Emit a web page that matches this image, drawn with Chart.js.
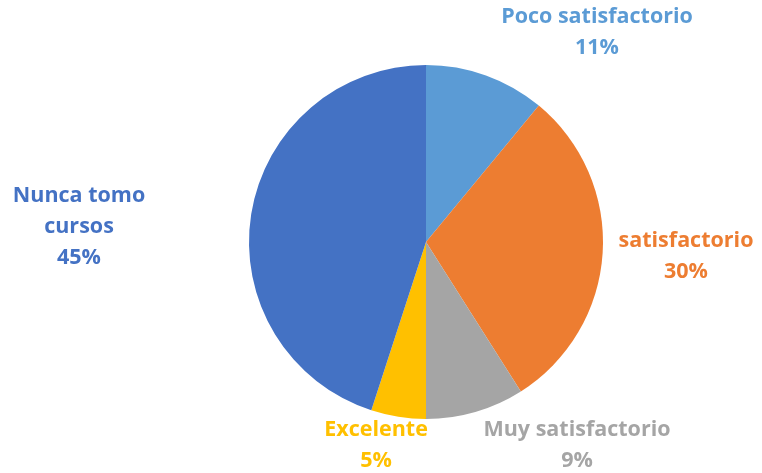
<!DOCTYPE html>
<html>
<head>
<meta charset="utf-8">
<script src="https://cdn.jsdelivr.net/npm/chart.js@4.4.0/dist/chart.umd.min.js"></script>
<style>
  html, body { margin: 0; padding: 0; background: #ffffff; }
  #wrap { width: 762px; height: 473px; }
</style>
</head>
<body>
<div id="wrap"><canvas id="pieChart" width="762" height="473"></canvas></div>
<script>
// Data (percent of respondents)
const categories = ["Poco satisfactorio", "satisfactorio", "Muy satisfactorio", "Excelente", "Nunca tomo cursos"];
const labelLines = [["Poco satisfactorio"], ["satisfactorio"], ["Muy satisfactorio"], ["Excelente"], ["Nunca tomo", "cursos"]];
const values = [11, 30, 9, 5, 45];

const sliceColors = ["#5B9BD5", "#ED7D31", "#A5A5A5", "#FFC000", "#4472C4"];
const textColors = ["#5B9BD5", "#ED7D31", "#A5A5A5", "#FFC000", "#4472C4"];
// label block centre, offset in px from the pie centre
const labelOffsets = [[171, -210], [260, 14], [151, 203], [-50, 203], [-347, -15]];

const total = values.reduce((a, b) => a + b, 0);

// draws the outside data labels
const outsideLabels = {
  id: "outsideLabels",
  afterDatasetsDraw(chart) {
    const ctx = chart.ctx;
    const arcs = chart.getDatasetMeta(0).data;
    const lineH = 31;
    ctx.save();
    ctx.font = "bold 21.5px 'Open Sans', sans-serif";
    ctx.textAlign = "center";
    ctx.textBaseline = "middle";
    arcs.forEach((arc, i) => {
      const lines = labelLines[i].concat([Math.round(values[i] / total * 100) + "%"]);
      const cx = arc.x + labelOffsets[i][0];
      const cy = arc.y + labelOffsets[i][1];
      const top = cy - (lines.length - 1) * lineH / 2;
      ctx.fillStyle = textColors[i];
      lines.forEach((t, j) => ctx.fillText(t, cx, top + j * lineH));
    });
    ctx.restore();
  }
};

new Chart(document.getElementById("pieChart"), {
  type: "pie",
  data: {
    labels: categories,
    datasets: [{
      data: values,
      backgroundColor: sliceColors,
      borderWidth: 0
    }]
  },
  options: {
    responsive: false,
    animation: false,
    layout: { padding: { top: 65, bottom: 54, left: 200, right: 110 } },
    plugins: {
      legend: { display: false },
      tooltip: { enabled: false }
    }
  },
  plugins: [outsideLabels]
});
</script>
</body>
</html>
